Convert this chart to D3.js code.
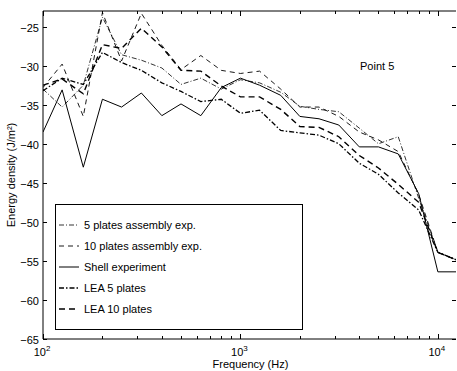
<!DOCTYPE html>
<html>
<head>
<meta charset="utf-8">
<script src="https://cdn.jsdelivr.net/npm/d3@7"></script>
<style>
  body { margin: 0; background: #fff; }
  text { font-family: "Liberation Sans", Arial, sans-serif; }
</style>
</head>
<body>
<div id="chart"></div>
<script>
// third-octave band centre frequencies (Hz)
const freqs = [100, 125, 160, 200, 250, 315, 400, 500, 630, 800, 1000, 1250, 1600, 2000, 2500, 3150, 4000, 5000, 6300, 8000, 10000, 12500];

// energy density values
const plates5Exp  = [-33.0, -35.3, -32.5, -23.8, -28.6, -29.3, -30.3, -32.4, -31.6, -33.0, -31.8, -32.2, -33.4, -35.2, -35.6, -35.9, -38.0, -40.0, -39.1, -47.0, -53.9, -54.9];
const plates10Exp = [-32.8, -29.8, -36.5, -23.2, -29.4, -23.3, -27.4, -30.5, -28.7, -30.6, -31.0, -30.7, -33.0, -35.3, -35.3, -36.5, -38.5, -39.5, -41.0, -46.5, -53.9, -54.9];
const shellExp    = [-38.5, -33.1, -43.0, -34.3, -35.3, -33.5, -36.4, -34.9, -36.4, -32.8, -31.6, -32.5, -33.8, -36.5, -36.8, -37.6, -40.4, -40.4, -41.3, -46.4, -56.4, -56.4];
const lea5        = [-33.2, -31.6, -32.4, -28.3, -29.6, -30.6, -32.2, -33.3, -34.6, -34.3, -36.1, -35.7, -38.3, -38.6, -38.9, -40.0, -42.5, -43.9, -46.3, -48.5, -53.9, -54.9];
const lea10       = [-32.5, -31.7, -33.6, -27.3, -27.8, -25.2, -27.6, -30.6, -30.7, -32.6, -34.0, -34.0, -35.6, -37.8, -37.9, -39.1, -41.5, -43.1, -45.2, -47.5, -53.9, -54.9];

const yTicks = [-65, -60, -55, -50, -45, -40, -35, -30, -25];
const xDecades = [100, 1000, 10000];
const decadeLabels = ["2", "3", "4"];

const series = [
  {name: "5 plates assembly exp.", values: plates5Exp, dash: "5,2,1,2", width: 0.8},
  {name: "10 plates assembly exp.", values: plates10Exp, dash: "5,4", width: 0.9},
  {name: "Shell experiment", values: shellExp, dash: null, width: 1},
  {name: "LEA 5 plates", values: lea5, dash: "5,2,1.5,2", width: 1.3},
  {name: "LEA 10 plates", values: lea10, dash: "6,4", width: 1.4}
];

const width = 457, height = 371;
const margin = {top: 11, right: 0, bottom: 32, left: 43};

const svg = d3.select("#chart").append("svg")
  .attr("width", width)
  .attr("height", height);

const x = d3.scaleLog()
  .domain([100, 12500])
  .range([margin.left, width - margin.right]);

const y = d3.scaleLinear()
  .domain([-65, -23])
  .range([height - margin.bottom, margin.top]);

const x0 = x.range()[0], x1 = x.range()[1] - 1;
const y0 = y.range()[0], y1 = y.range()[1];

svg.append("clipPath").attr("id", "plot-clip")
  .append("rect")
  .attr("x", x0).attr("y", y1)
  .attr("width", x1 - x0).attr("height", y0 - y1);

// frame
svg.append("path")
  .attr("d", `M${x0},${y1}H${x1}M${x0},${y1}V${y0}H${x1}`)
  .attr("fill", "none")
  .attr("stroke", "#000")
  .attr("stroke-width", 1);

// y ticks, inward on both sides
yTicks.forEach(v => {
  const py = Math.round(y(v)) + 0.5;
  svg.append("line").attr("x1", x0).attr("x2", x0 + 4).attr("y1", py).attr("y2", py).attr("stroke", "#000");
  svg.append("line").attr("x1", x1 - 4).attr("x2", x1).attr("y1", py).attr("y2", py).attr("stroke", "#000");
  svg.append("text")
    .attr("x", x0 - 4)
    .attr("y", py + 4)
    .attr("text-anchor", "end")
    .attr("font-size", 11)
    .text(String(v).replace("-", "\u2212"));
});

// x ticks (log minor + decades), inward top and bottom
const minor = [];
for (let d = 100; d <= 10000; d *= 10) {
  for (let k = 1; k <= 9; k++) {
    const f = d * k;
    if (f <= 12500) minor.push(f);
  }
}
minor.forEach(f => {
  const px = Math.round(x(f)) + 0.5;
  const len = (f === 100 || f === 1000 || f === 10000) ? 5 : 3;
  svg.append("line").attr("x1", px).attr("x2", px).attr("y1", y0).attr("y2", y0 - len).attr("stroke", "#000");
  svg.append("line").attr("x1", px).attr("x2", px).attr("y1", y1).attr("y2", y1 + len).attr("stroke", "#000");
});

xDecades.forEach((f, i) => {
  const t = svg.append("text")
    .attr("x", x(f) - 1)
    .attr("y", y0 + 17)
    .attr("text-anchor", "middle")
    .attr("font-size", 11);
  t.append("tspan").text("10");
  t.append("tspan").attr("font-size", 8).attr("dy", -5).text(decadeLabels[i]);
});

// axis titles
svg.append("text")
  .attr("x", (x0 + x1) / 2 + 1)
  .attr("y", 368)
  .attr("text-anchor", "middle")
  .attr("font-size", 11)
  .text("Frequency (Hz)");

svg.append("text")
  .attr("transform", `translate(15,${(y0 + y1) / 2}) rotate(-90)`)
  .attr("text-anchor", "middle")
  .attr("font-size", 11)
  .text("Energy density (J/m\u00b2)");

// curves
const line = d3.line()
  .x((d, i) => x(freqs[i]))
  .y(d => y(d));

const plot = svg.append("g").attr("clip-path", "url(#plot-clip)");
series.forEach(s => {
  plot.append("path")
    .datum(s.values)
    .attr("d", line)
    .attr("fill", "none")
    .attr("stroke", "#000")
    .attr("stroke-width", s.width)
    .attr("stroke-dasharray", s.dash);
});

svg.append("text")
  .attr("x", 360)
  .attr("y", 70)
  .attr("font-size", 11)
  .text("Point 5");

// legend
const legend = svg.append("g");
legend.append("rect")
  .attr("x", 55.5).attr("y", 204.5)
  .attr("width", 247).attr("height", 125)
  .attr("fill", "#fff")
  .attr("stroke", "#000")
  .attr("stroke-width", 1);

series.forEach((s, i) => {
  const ly = 225 + i * 21;
  legend.append("line")
    .attr("x1", 59).attr("x2", 79)
    .attr("y1", ly).attr("y2", ly)
    .attr("stroke", "#000")
    .attr("stroke-width", s.width)
    .attr("stroke-dasharray", s.dash);
  legend.append("text")
    .attr("x", 84)
    .attr("y", ly + 4)
    .attr("font-size", 11)
    .text(s.name);
});
</script>
</body>
</html>
